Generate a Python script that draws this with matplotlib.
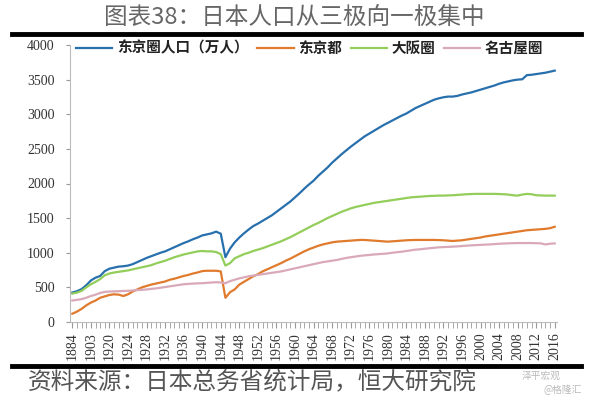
import matplotlib
matplotlib.use("Agg")
import matplotlib.pyplot as plt
from matplotlib.lines import Line2D
import numpy as np

plt.rcParams['font.family'] = ['Noto Sans CJK SC', 'DejaVu Sans']

# categories: early census years, then yearly from 1920
years = [1884, 1888, 1893, 1898, 1903, 1908, 1913, 1918] + list(range(1920, 2017))

tokyo_area = [425, 445, 475, 530, 600, 640, 665, 735, 770, 785,
              800, 805, 815, 835, 865, 895, 925, 950, 975, 1000,
              1020, 1050, 1080, 1110, 1140, 1165, 1195, 1220, 1250, 1265,
              1280, 1305, 1275, 935, 1060, 1150, 1220, 1280, 1335, 1385,
              1420, 1460, 1500, 1540, 1590, 1640, 1690, 1740, 1800, 1860,
              1925, 1985, 2040, 2110, 2170, 2230, 2300, 2360, 2420, 2475,
              2530, 2580, 2630, 2680, 2720, 2760, 2800, 2840, 2875, 2910,
              2945, 2980, 3010, 3050, 3090, 3120, 3150, 3180, 3210, 3230,
              3245, 3255, 3255, 3265, 3285, 3300, 3315, 3335, 3355, 3375,
              3395, 3415, 3440, 3460, 3475, 3490, 3500, 3505, 3565, 3570,
              3580, 3590, 3600, 3615, 3630]

tokyo_to = [120, 150, 190, 240, 280, 310, 350, 370, 390, 400,
            395, 375, 400, 440, 470, 500, 520, 540, 555, 570,
            585, 610, 625, 645, 665, 680, 700, 715, 735, 740,
            740, 740, 730, 350, 430, 470, 540, 580, 620, 660,
            690, 730, 760, 790, 820, 850, 885, 915, 950, 985,
            1020, 1050, 1075, 1100, 1120, 1135, 1150, 1160, 1165, 1170,
            1175, 1180, 1185, 1185, 1180, 1175, 1170, 1165, 1160, 1165,
            1170, 1175, 1180, 1183, 1185, 1185, 1185, 1185, 1185, 1183,
            1180, 1175, 1170, 1175, 1180, 1190, 1200, 1210, 1220, 1235,
            1245, 1255, 1265, 1275, 1285, 1295, 1305, 1315, 1325, 1330,
            1335, 1340, 1345, 1355, 1375]

osaka = [410, 425, 450, 500, 545, 580, 620, 675, 700, 715,
         725, 735, 745, 760, 775, 790, 805, 820, 845, 865,
         885, 910, 935, 955, 975, 990, 1005, 1020, 1025, 1020,
         1020, 1010, 980, 815, 850, 920, 950, 980, 1000, 1025,
         1045, 1065, 1090, 1115, 1140, 1165, 1195, 1225, 1260, 1295,
         1330, 1365, 1400, 1430, 1465, 1500, 1530, 1560, 1590, 1615,
         1640, 1660, 1675, 1690, 1705, 1720, 1730, 1740, 1750, 1760,
         1770, 1780, 1790, 1800, 1805, 1810, 1815, 1820, 1822, 1825,
         1825, 1828, 1830, 1835, 1840, 1845, 1848, 1850, 1850, 1850,
         1850, 1850, 1848, 1845, 1840, 1830, 1825, 1840, 1850, 1845,
         1830, 1828, 1825, 1825, 1825]

nagoya = [310, 320, 330, 350, 375, 395, 420, 435, 440, 442,
          445, 448, 450, 455, 460, 465, 470, 478, 485, 495,
          505, 515, 525, 535, 545, 550, 555, 558, 560, 565,
          570, 575, 570, 560, 590, 610, 630, 645, 660, 670,
          680, 690, 700, 710, 720, 730, 745, 760, 775, 790,
          805, 820, 835, 850, 865, 875, 885, 895, 910, 925,
          935, 945, 955, 962, 968, 975, 980, 985, 990, 1000,
          1008, 1015, 1025, 1035, 1045, 1050, 1058, 1065, 1072, 1078,
          1082, 1085, 1088, 1092, 1097, 1102, 1107, 1110, 1114, 1117,
          1120, 1125, 1130, 1133, 1136, 1138, 1140, 1140, 1140, 1140,
          1138, 1135, 1120, 1130, 1135]

labels = ['东京圈人口（万人）', '东京都', '大阪圈', '名古屋圈']
colors = ['#2870ad', '#e07a2c', '#93cd5a', '#d9a9b8']

fig = plt.figure(figsize=(6, 4), dpi=100)
ax = fig.add_axes([0.1167, 0.195, 0.8117, 0.6925])

x = np.arange(len(years))
for s, lab, c in zip([tokyo_area, tokyo_to, osaka, nagoya], labels, colors):
    ax.plot(x, s, color=c, lw=1.6, label=lab)

ax.set_xlim(-0.5, len(years) - 0.5)
ax.set_ylim(0, 4000)
ax.set_yticks(range(0, 4001, 500))
ax.set_xticks(x[::4])
ax.set_xticklabels([str(y) for y in years[::4]], rotation=90)
ax.set_xticks(x, minor=True)

for sp in ['top', 'right']:
    ax.spines[sp].set_visible(False)
for sp in ['left', 'bottom']:
    ax.spines[sp].set_color('#bbbbbb')
ax.tick_params(axis='both', which='both', color='#999999', direction='out')
ax.tick_params(axis='x', which='both', length=4)
ax.tick_params(axis='y', length=3, pad=8)
for t in ax.get_xticklabels() + ax.get_yticklabels():
    t.set_family('Liberation Serif')
    t.set_fontsize(10)
    t.set_color('#333333')

leg = ax.legend(loc='upper left', bbox_to_anchor=(0.0, 1.04), ncol=4,
                frameon=False, handlelength=2.5, handletextpad=0.3,
                columnspacing=0.6, borderaxespad=0,
                prop={'size': 10.5, 'weight': 'bold'})
for t in leg.get_texts():
    t.set_color('#222222')

# title and rules
fig.text(0.49, 0.955, '图表38：日本人口从三极向一极集中', ha='center', va='center',
         fontsize=17, color='#666666')
fig.add_artist(Line2D([0.02, 0.968], [0.915, 0.915], lw=3.5, color='black',
                      transform=fig.transFigure))
fig.add_artist(Line2D([0.02, 0.968], [0.085, 0.085], lw=3.5, color='black',
                      transform=fig.transFigure))
fig.text(0.047, 0.045, '资料来源：日本总务省统计局，恒大研究院', ha='left', va='center',
         fontsize=17, color='#555555')
fig.text(0.87, 0.06, '泽平宏观', fontsize=7, color='#bbbbbb', va='center')
fig.text(0.905, 0.025, '@格隆汇', fontsize=7, color='#bbbbbb', va='center')

fig.savefig('out.png', dpi=100)
